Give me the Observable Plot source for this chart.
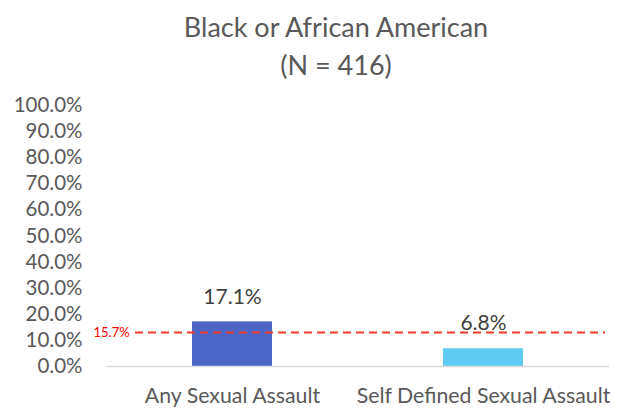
<!DOCTYPE html>
<html>
<head>
<meta charset="utf-8">
<script src="https://cdn.jsdelivr.net/npm/d3@7"></script>
<script src="https://cdn.jsdelivr.net/npm/@observablehq/plot@0.6"></script>
<style>
  html, body { margin: 0; padding: 0; background: #fff; }
  #chart svg { display: block; }
</style>
</head>
<body>
<div id="chart"></div>
<script>
const titleLines = ["Black or African American", "(N = 416)"];
const categories = ["Any Sexual Assault", "Self Defined Sexual Assault"];
const values = [17.1, 6.8];
const barColors = ["#4d66c5", "#5ecbf2"];
const yTicks = [0, 10, 20, 30, 40, 50, 60, 70, 80, 90, 100];
const refLabel = "15.7%";
const refLinePosition = [13.0]; // where the dashed line is drawn in the picture

const data = categories.map((c, i) => ({category: c, value: values[i], color: barColors[i]}));
const font = "Lato, 'Open Sans', sans-serif";
const gray = "#595959";

const chart = Plot.plot({
  width: 618,
  height: 409,
  marginLeft: 106,
  marginRight: 9,
  marginTop: 105,
  marginBottom: 43,
  style: {fontFamily: font, color: gray, background: "#fff"},
  x: {domain: categories, paddingInner: 0.68, paddingOuter: 0.34, label: null},
  y: {domain: [0, 100], label: null},
  marks: [
    Plot.axisY({ticks: yTicks, tickSize: 0, tickPadding: 24, tickFormat: d => d.toFixed(1) + "%", fontSize: 20.5, fill: gray, label: null}),
    Plot.axisX({tickSize: 0, tickPadding: 21, fontSize: 21.3, fill: gray, label: null}),
    Plot.barY(data, {x: "category", y: "value", fill: "color"}),
    Plot.ruleY([0], {stroke: "#d9d9d9", strokeWidth: 1.5}),
    Plot.ruleY(refLinePosition, {stroke: "#ef3b2c", strokeWidth: 2, strokeDasharray: "8,5", insetLeft: 29, insetRight: 4}),
    Plot.text(refLinePosition, {y: d => d, text: () => refLabel, frameAnchor: "left", textAnchor: "start", dx: -13, fill: "#ff0000", fontSize: 13}),
    Plot.text(data, {x: "category", y: "value", text: d => d.value.toFixed(1) + "%", dy: -25, fill: "#404040", fontSize: 21}),
    Plot.text([titleLines[0]], {frameAnchor: "top", lineAnchor: "middle", text: d => d, dx: -22, dy: -77, fontSize: 27, fill: gray}),
    Plot.text([titleLines[1]], {frameAnchor: "top", lineAnchor: "middle", text: d => d, dx: -22, dy: -39, fontSize: 27, fill: gray})
  ]
});
document.getElementById("chart").appendChild(chart);
</script>
</body>
</html>
